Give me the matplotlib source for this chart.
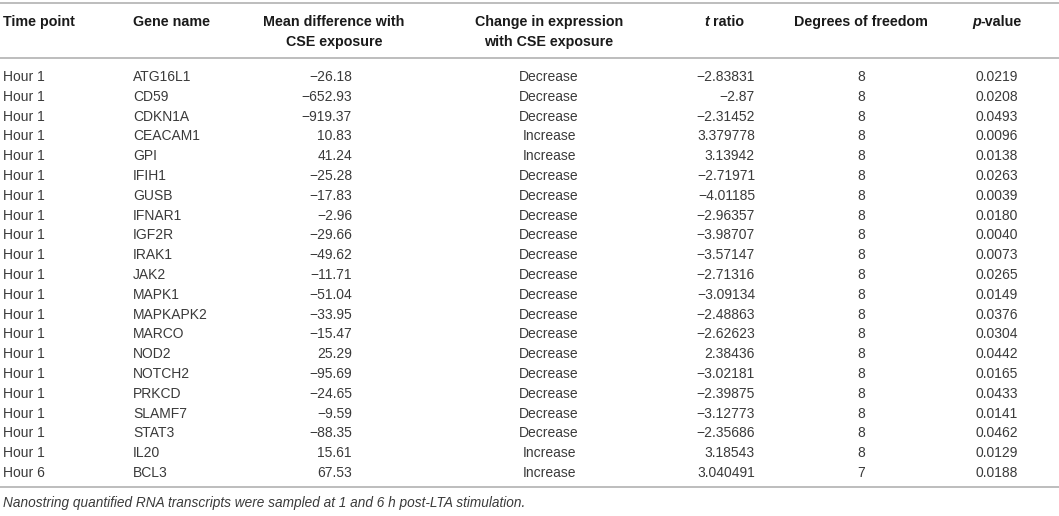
import matplotlib
matplotlib.use("Agg")
import matplotlib.pyplot as plt

time_points = ["Hour 1"] * 20 + ["Hour 6"]
genes = ["ATG16L1", "CD59", "CDKN1A", "CEACAM1", "GPI", "IFIH1", "GUSB", "IFNAR1",
         "IGF2R", "IRAK1", "JAK2", "MAPK1", "MAPKAPK2", "MARCO", "NOD2", "NOTCH2",
         "PRKCD", "SLAMF7", "STAT3", "IL20", "BCL3"]
mean_diff = [-26.18, -652.93, -919.37, 10.83, 41.24, -25.28, -17.83, -2.96, -29.66,
             -49.62, -11.71, -51.04, -33.95, -15.47, 25.29, -95.69, -24.65, -9.59,
             -88.35, 15.61, 67.53]
change = ["Decrease", "Decrease", "Decrease", "Increase", "Increase", "Decrease",
          "Decrease", "Decrease", "Decrease", "Decrease", "Decrease", "Decrease",
          "Decrease", "Decrease", "Decrease", "Decrease", "Decrease", "Decrease",
          "Decrease", "Increase", "Increase"]
t_ratio = [-2.83831, -2.87, -2.31452, 3.379778, 3.13942, -2.71971, -4.01185, -2.96357,
           -3.98707, -3.57147, -2.71316, -3.09134, -2.48863, -2.62623, 2.38436,
           -3.02181, -2.39875, -3.12773, -2.35686, 3.18543, 3.040491]
dof = [8] * 20 + [7]
p_values = [0.0219, 0.0208, 0.0493, 0.0096, 0.0138, 0.0263, 0.0039, 0.0180, 0.0040,
            0.0073, 0.0265, 0.0149, 0.0376, 0.0304, 0.0442, 0.0165, 0.0433, 0.0141,
            0.0462, 0.0129, 0.0188]
footnote = "Nanostring quantified RNA transcripts were sampled at 1 and 6 h post-LTA stimulation."

W, H = 1059, 516
fig = plt.figure(figsize=(W / 100, H / 100), dpi=100)
ax = fig.add_axes([0, 0, 1, 1])
ax.set_xlim(0, W)
ax.set_ylim(H, 0)
ax.axis("off")
renderer = fig.canvas.get_renderer()

FONT = ["Liberation Sans", "DejaVu Sans"]
hdr_kw = dict(fontsize=10.3, fontweight="bold", color="#1a1a1a", family=FONT, va="center")
dat_kw = dict(fontsize=10.0, color="#3a3a3a", family=FONT, va="center")

line_col = "#b8b8b8"
for y in (3, 58, 487):
    ax.plot([0, W], [y, y], color=line_col, lw=1.3, solid_capstyle="butt")


def mixed_center(xc, y, pieces):
    """Draw header pieces [(text, style)] centred at xc (pixel units)."""
    texts = [ax.text(0, y, s, ha="left", style=st, **hdr_kw) for s, st in pieces]
    widths = [t.get_window_extent(renderer).width for t in texts]
    x = xc - sum(widths) / 2
    for t, w in zip(texts, widths):
        t.set_x(x)
        x += w


h1, h2 = 22, 42
ax.text(3, h1, "Time point", ha="left", **hdr_kw)
ax.text(133, h1, "Gene name", ha="left", **hdr_kw)
ax.text(334, h1, "Mean difference with", ha="center", **hdr_kw)
ax.text(334, h2, "CSE exposure", ha="center", **hdr_kw)
ax.text(549, h1, "Change in expression", ha="center", **hdr_kw)
ax.text(549, h2, "with CSE exposure", ha="center", **hdr_kw)
mixed_center(724, h1, [("t", "italic"), (" ratio", "normal")])
ax.text(861, h1, "Degrees of freedom", ha="center", **hdr_kw)
mixed_center(997, h1, [("p", "italic"), ("-value", "normal")])


def fmt_minus(s):
    return s.replace("-", "\u2212")


y0, dy = 77, 19.8
for i in range(len(genes)):
    y = y0 + i * dy
    ax.text(3, y, time_points[i], ha="left", **dat_kw)
    ax.text(133, y, genes[i], ha="left", **dat_kw)
    ax.text(352, y, fmt_minus(f"{mean_diff[i]:.2f}"), ha="right", **dat_kw)
    ax.text(549, y, change[i], ha="center", **dat_kw)
    ax.text(755, y, fmt_minus(repr(t_ratio[i])), ha="right", **dat_kw)
    ax.text(861, y, str(dof[i]), ha="center", **dat_kw)
    ax.text(997, y, f"{p_values[i]:.4f}", ha="center", **dat_kw)

ax.text(3, 503, footnote, ha="left", fontsize=9.8, style="italic", color="#3a3a3a",
        family=FONT, va="center")

fig.savefig("out.png", dpi=100)
